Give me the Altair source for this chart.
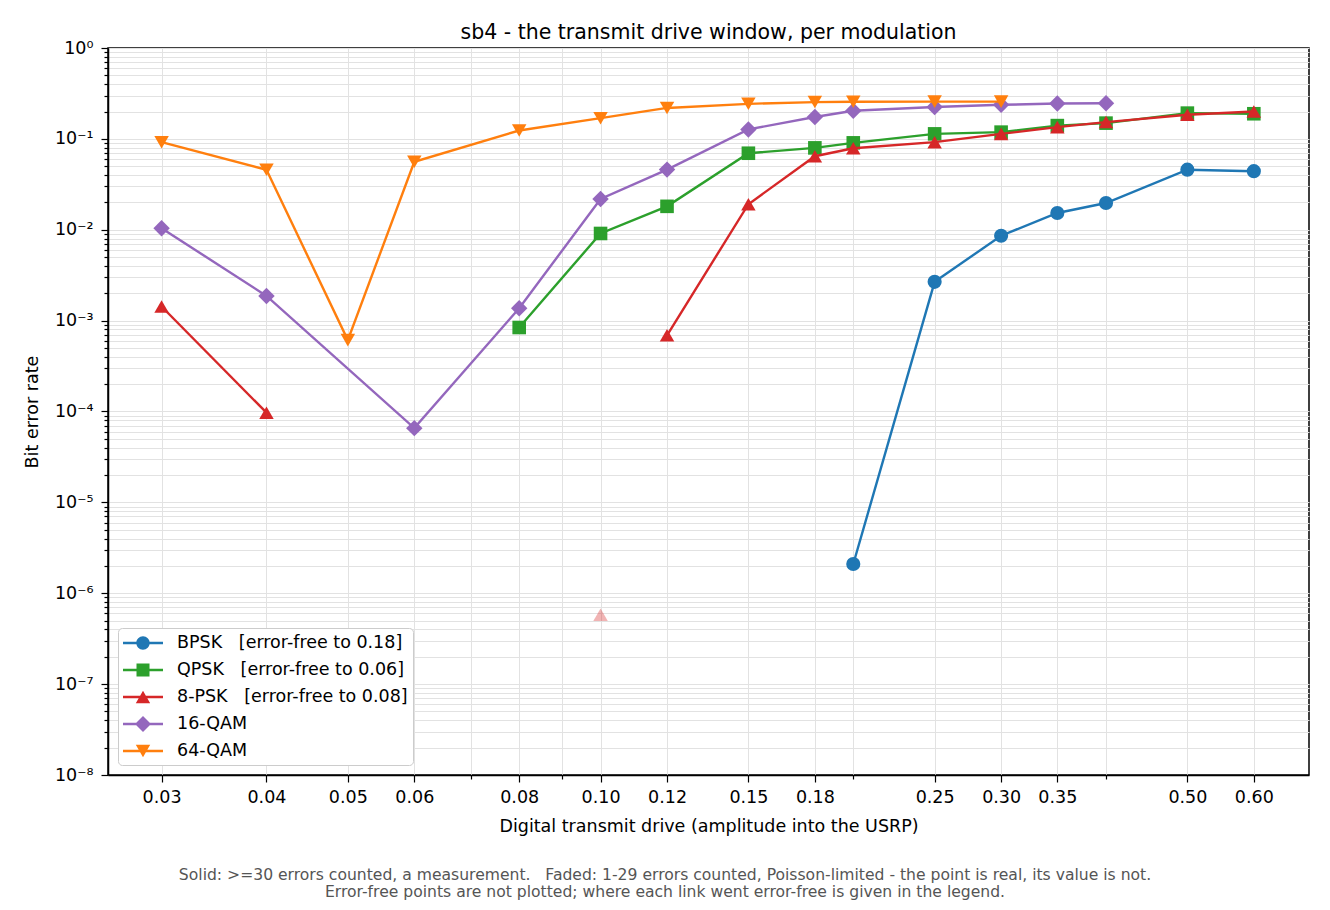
import altair as alt
import pandas as pd

# ---------------- data ----------------
drive = [0.03, 0.04, 0.05, 0.06, 0.08, 0.10, 0.12, 0.15, 0.18, 0.20, 0.25, 0.30, 0.35, 0.40, 0.50, 0.60]

series_names = ["BPSK", "QPSK", "8-PSK", "16-QAM", "64-QAM"]
legend_labels = [
    "BPSK\u00a0\u00a0\u00a0[error-free to 0.18]",
    "QPSK\u00a0\u00a0\u00a0[error-free to 0.06]",
    "8-PSK\u00a0\u00a0\u00a0[error-free to 0.08]",
    "16-QAM",
    "64-QAM",
]
colors = ["#1f77b4", "#2ca02c", "#d62728", "#9467bd", "#ff7f0e"]
shapes = ["circle", "square", "triangle-up", "diamond", "triangle-down"]
sizes = [200, 185, 210, 270, 210]

bpsk_ber = [None, None, None, None, None, None, None, None, None,
            2.1e-6, 2.67e-3, 8.6e-3, 1.53e-2, 1.97e-2, 4.58e-2, 4.41e-2]
qpsk_ber = [None, None, None, None, 8.4e-4, 9.1e-3, 1.81e-2, 6.95e-2, 7.96e-2,
            9.04e-2, 1.135e-1, 1.186e-1, 1.40e-1, 1.49e-1, 1.92e-1, 1.89e-1]
psk8_ber = [1.43e-3, 9.7e-5, None, None, None, 5.8e-7, 6.9e-4, 1.91e-2, 6.44e-2,
            7.89e-2, 9.2e-2, 1.135e-1, 1.346e-1, 1.53e-1, 1.84e-1, 2.0e-1]
qam16_ber = [1.04e-2, 1.87e-3, None, 6.56e-5, 1.37e-3, 2.18e-2, 4.59e-2, 1.27e-1, 1.74e-1,
             2.04e-1, 2.24e-1, 2.37e-1, 2.45e-1, 2.47e-1, None, None]
qam64_ber = [9.2e-2, 4.57e-2, 6.1e-4, 5.6e-2, 1.236e-1, 1.69e-1, 2.19e-1, 2.43e-1, 2.54e-1,
             2.56e-1, 2.57e-1, 2.57e-1, None, None, None, None]

# line segment ids (8-PSK line is broken between 0.04 and 0.12)
psk8_seg = [0, 0, 0, 0, 0, 1, 2, 2, 2, 2, 2, 2, 2, 2, 2, 2]
# faded (Poisson-limited) points
psk8_faded = [False, False, False, False, False, True, False, False, False,
              False, False, False, False, False, False, False]

all_ber = [bpsk_ber, qpsk_ber, psk8_ber, qam16_ber, qam64_ber]
all_seg = [None, None, psk8_seg, None, None]
all_faded = [None, None, psk8_faded, None, None]

rows = []
for k, name in enumerate(series_names):
    for j, v in enumerate(all_ber[k]):
        if v is None:
            continue
        seg = all_seg[k][j] if all_seg[k] else 0
        faded = all_faded[k][j] if all_faded[k] else False
        rows.append({"drive": drive[j], "ber": v, "series": name,
                     "label": legend_labels[k], "seg": seg,
                     "state": "faded" if faded else "solid"})
df = pd.DataFrame(rows)

# axis tick values
x_major = [0.03, 0.04, 0.05, 0.06, 0.08, 0.10, 0.12, 0.15, 0.18, 0.25, 0.30, 0.35, 0.50, 0.60]
x_minor = [0.07, 0.09, 0.20, 0.40]
x_vals = sorted(x_major + x_minor)
y_vals = []
for e in range(-8, 0):
    for m in range(1, 10):
        y_vals.append(float(f"{m}e{e}"))
y_vals.append(1.0)

note1 = ("Solid: >=30 errors counted, a measurement.\u00a0\u00a0\u00a0Faded: 1-29 errors counted, "
         "Poisson-limited - the point is real, its value is not.")
note2 = "Error-free points are not plotted; where each link went error-free is given in the legend."

FONT = "DejaVu Sans"
FS = 17.5

# ---------------- encodings ----------------
minor_test = " || ".join(f"datum.value == {v}" for v in x_minor)
x_label_expr = f"({minor_test}) ? '' : format(datum.value, '.2f')"

dec = "log(datum.value)/LN10"
y_label_expr = (f"abs({dec} - round({dec})) < 0.001 ? "
                f"(round({dec}) == 0 ? '10\u2070' : '10\u207b' + "
                "['\u2070','\u00b9','\u00b2','\u00b3','\u2074','\u2075','\u2076','\u2077','\u2078'][-round(" + dec + ")]) : ''")

X = alt.X("drive:Q",
          scale=alt.Scale(type="log", domain=[0.0259, 0.698], nice=False),
          axis=alt.Axis(values=x_vals, labelExpr=x_label_expr,
                        tickSize={"condition": {"test": f"({minor_test})", "value": 4}, "value": 7},
                        title="Digital transmit drive (amplitude into the USRP)",
                        labelFont=FONT, titleFont=FONT, titleFontWeight="normal",
                        labelFontSize=FS, titleFontSize=FS, labelPadding=6,
                        titlePadding=12, labelFlush=False, labelOverlap=False))
Y = alt.Y("ber:Q",
          scale=alt.Scale(type="log", domain=[1e-8, 1], nice=False),
          axis=alt.Axis(values=y_vals, labelExpr=y_label_expr,
                        tickSize={"condition": {"test": f"abs({dec} - round({dec})) < 0.001", "value": 7}, "value": 4},
                        title="Bit error rate", labelFont=FONT, titleFont=FONT,
                        titleFontWeight="normal", labelFontSize=FS, titleFontSize=FS,
                        labelPadding=8, titlePadding=13, labelOverlap=False))

layers = []
for k, name in enumerate(series_names):
    d = df[df["series"] == name]
    dl = d[d["state"] == "solid"]
    layers.append(
        alt.Chart(dl).mark_line(color=colors[k], strokeWidth=2.4).encode(
            x=X, y=Y, detail="seg:N", order="drive:Q")
    )
    layers.append(
        alt.Chart(d).mark_point(filled=True, shape=shapes[k], size=sizes[k],
                                color=colors[k], strokeWidth=0).encode(
            x=X, y=Y,
            opacity=alt.Opacity("state:N", scale=alt.Scale(domain=["solid", "faded"], range=[1, 0.35]),
                                legend=None))
    )

# legend symbols: line segment with marker (unit = 10px, symbolSize 400)
bar = "M-1,-0.12L3,-0.12L3,0.12L-1,0.12Z"
leg_paths = [
    bar + "M1.67,0A0.67,0.67 0 1,1 0.33,0A0.67,0.67 0 1,1 1.67,0Z",
    bar + "M0.35,-0.65L1.65,-0.65L1.65,0.65L0.35,0.65Z",
    bar + "M1,-0.62L1.72,0.62L0.28,0.62Z",
    bar + "M1,-0.8L1.8,0L1,0.8L0.2,0Z",
    bar + "M1,0.62L0.28,-0.62L1.72,-0.62Z",
]
leg = alt.Legend(title=None, orient="bottom-left", offset=10, symbolSize=400,
                 symbolStrokeWidth=0, symbolOpacity=1, labelFontSize=FS, labelFont=FONT,
                 labelColor="black", labelOffset=34, rowPadding=8, padding=5,
                 fillColor="white", strokeColor="#cccccc", cornerRadius=4, labelLimit=0)
legend_layer = alt.Chart(df).mark_point(filled=True, opacity=0).encode(
    x=X, y=Y,
    color=alt.Color("label:N", scale=alt.Scale(domain=legend_labels, range=colors), legend=leg),
    shape=alt.Shape("label:N", scale=alt.Scale(domain=legend_labels, range=leg_paths), legend=leg),
)
layers.append(legend_layer)

for txt, yy in [(note1, 832), (note2, 849)]:
    layers.append(
        alt.Chart(pd.DataFrame({"t": [txt]})).mark_text(
            font=FONT, fontSize=15.6, color="#555555", align="center", baseline="alphabetic"
        ).encode(text="t:N", x=alt.value(557), y=alt.value(yy))
    )

chart = alt.layer(*layers).properties(
    width=1201, height=727,
    title=alt.TitleParams("sb4 - the transmit drive window, per modulation", font=FONT,
                          fontSize=20.5, fontWeight="normal", anchor="middle", offset=-4,
                          color="black"),
    padding={"left": 100, "top": 40, "right": 13, "bottom": 126},
    autosize=alt.AutoSizeParams(type="none"),
).configure(background="white").configure_view(
    stroke="black", strokeWidth=1.5
).configure_axis(
    labelFont=FONT, titleFont=FONT, titleFontWeight="normal", labelColor="black",
    titleColor="black", domainColor="black", domainWidth=1.5, tickColor="black",
    tickWidth=1.2, gridColor="#e2e2e2", gridWidth=1
)

chart.save("out.html", embed_options={"renderer": "svg", "actions": False})
